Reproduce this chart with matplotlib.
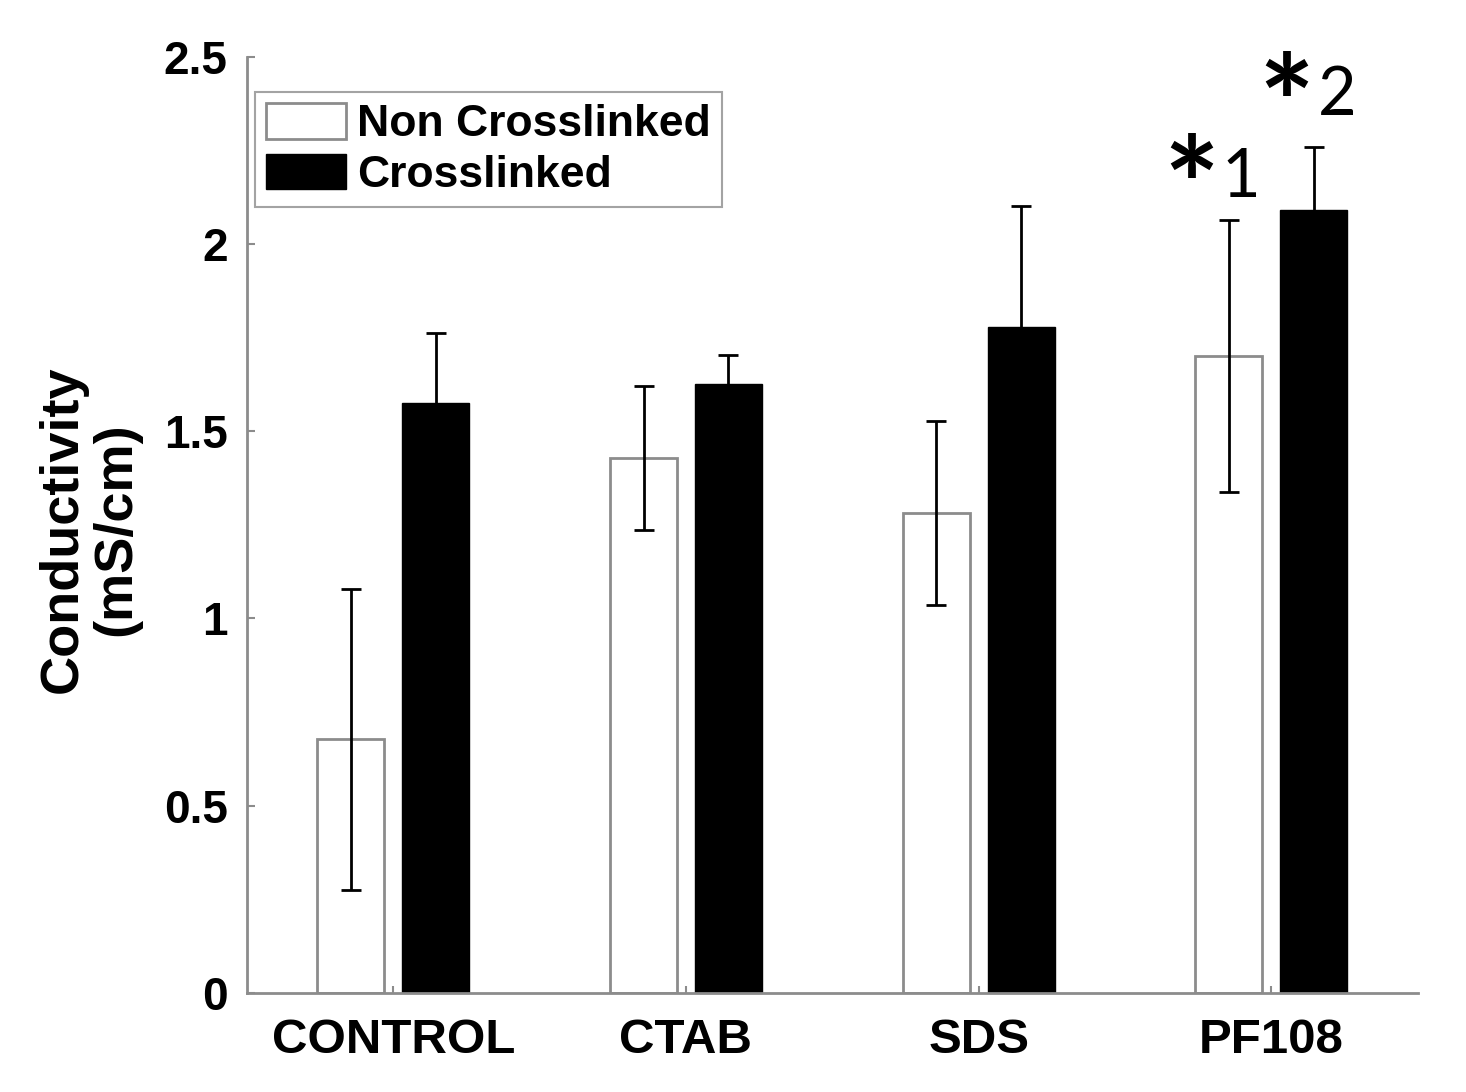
import matplotlib.pyplot as plt
import numpy as np

categories = ['CONTROL', 'CTAB', 'SDS', 'PF108']
non_cross = [0.678, 1.429, 1.282, 1.701]
non_cross_err = [0.402, 0.193, 0.245, 0.362]
cross = [1.576, 1.627, 1.779, 2.091]
cross_err = [0.187, 0.077, 0.323, 0.168]

plt.rcParams['font.family'] = ['Liberation Sans', 'DejaVu Sans']

fig = plt.figure(figsize=(14.66, 10.92), dpi=100)
ax = fig.add_axes([0.1685, 0.0907, 0.7985, 0.8573])

x = np.arange(1, len(categories) + 1)
w = 0.229
off = 0.145
grey = '#8c8c8c'

ax.bar(x - off, non_cross, w, color='white', edgecolor=grey, linewidth=2,
       label='Non Crosslinked', zorder=2)
ax.bar(x + off, cross, w, color='black', edgecolor='black', linewidth=1,
       label='Crosslinked', zorder=2)
ax.errorbar(x - off, non_cross, yerr=non_cross_err, fmt='none', ecolor='black',
            elinewidth=2, capsize=7, capthick=2, zorder=3)
ax.errorbar(x + off, cross, yerr=cross_err, fmt='none', ecolor='black',
            elinewidth=2, capsize=7, capthick=2, zorder=3)

ax.set_xlim(0.5, 4.5)
ax.set_ylim(0, 2.5)
ax.set_yticks([0, 0.5, 1, 1.5, 2, 2.5])
ax.set_yticklabels(['0', '0.5', '1', '1.5', '2', '2.5'])
ax.set_xticks(x)
ax.set_xticklabels(categories)

for s in ['top', 'right']:
    ax.spines[s].set_visible(False)
for s in ['left', 'bottom']:
    ax.spines[s].set_color(grey)
    ax.spines[s].set_linewidth(2)

ax.tick_params(axis='y', direction='in', length=6, width=1.5, color=grey,
               labelsize=33, pad=14)
ax.tick_params(axis='x', direction='in', length=5, width=1.5, color=grey,
               labelsize=35.5, pad=18)
for lbl in ax.get_xticklabels() + ax.get_yticklabels():
    lbl.set_fontweight('bold')

ax.set_ylabel('Conductivity\n(mS/cm)', fontsize=39, fontweight='bold',
              linespacing=1.1)
ax.yaxis.set_label_coords(-0.09, 0.495)

leg = ax.legend(loc='upper left', bbox_to_anchor=(0.007, 0.962),
                borderaxespad=0, prop={'weight': 'bold', 'size': 32},
                frameon=True, fancybox=False, edgecolor=grey,
                handlelength=1.8, handleheight=0.84, handletextpad=0.25,
                labelspacing=0.2, borderpad=0.25)
leg.get_frame().set_linewidth(1.5)

# significance markers above PF108
ax.text(3.824, 2.13, '*', fontsize=95, family='Lato', fontweight='bold',
        ha='right', va='center')
ax.text(3.8305, 2.126, '1', fontsize=48, family='Lato', ha='left', va='baseline')
ax.text(4.148, 2.349, '*', fontsize=95, family='Lato', fontweight='bold',
        ha='right', va='center')
ax.text(4.158, 2.345, '2', fontsize=48, family='Lato', ha='left', va='baseline')

plt.savefig('out.png', dpi=100)
